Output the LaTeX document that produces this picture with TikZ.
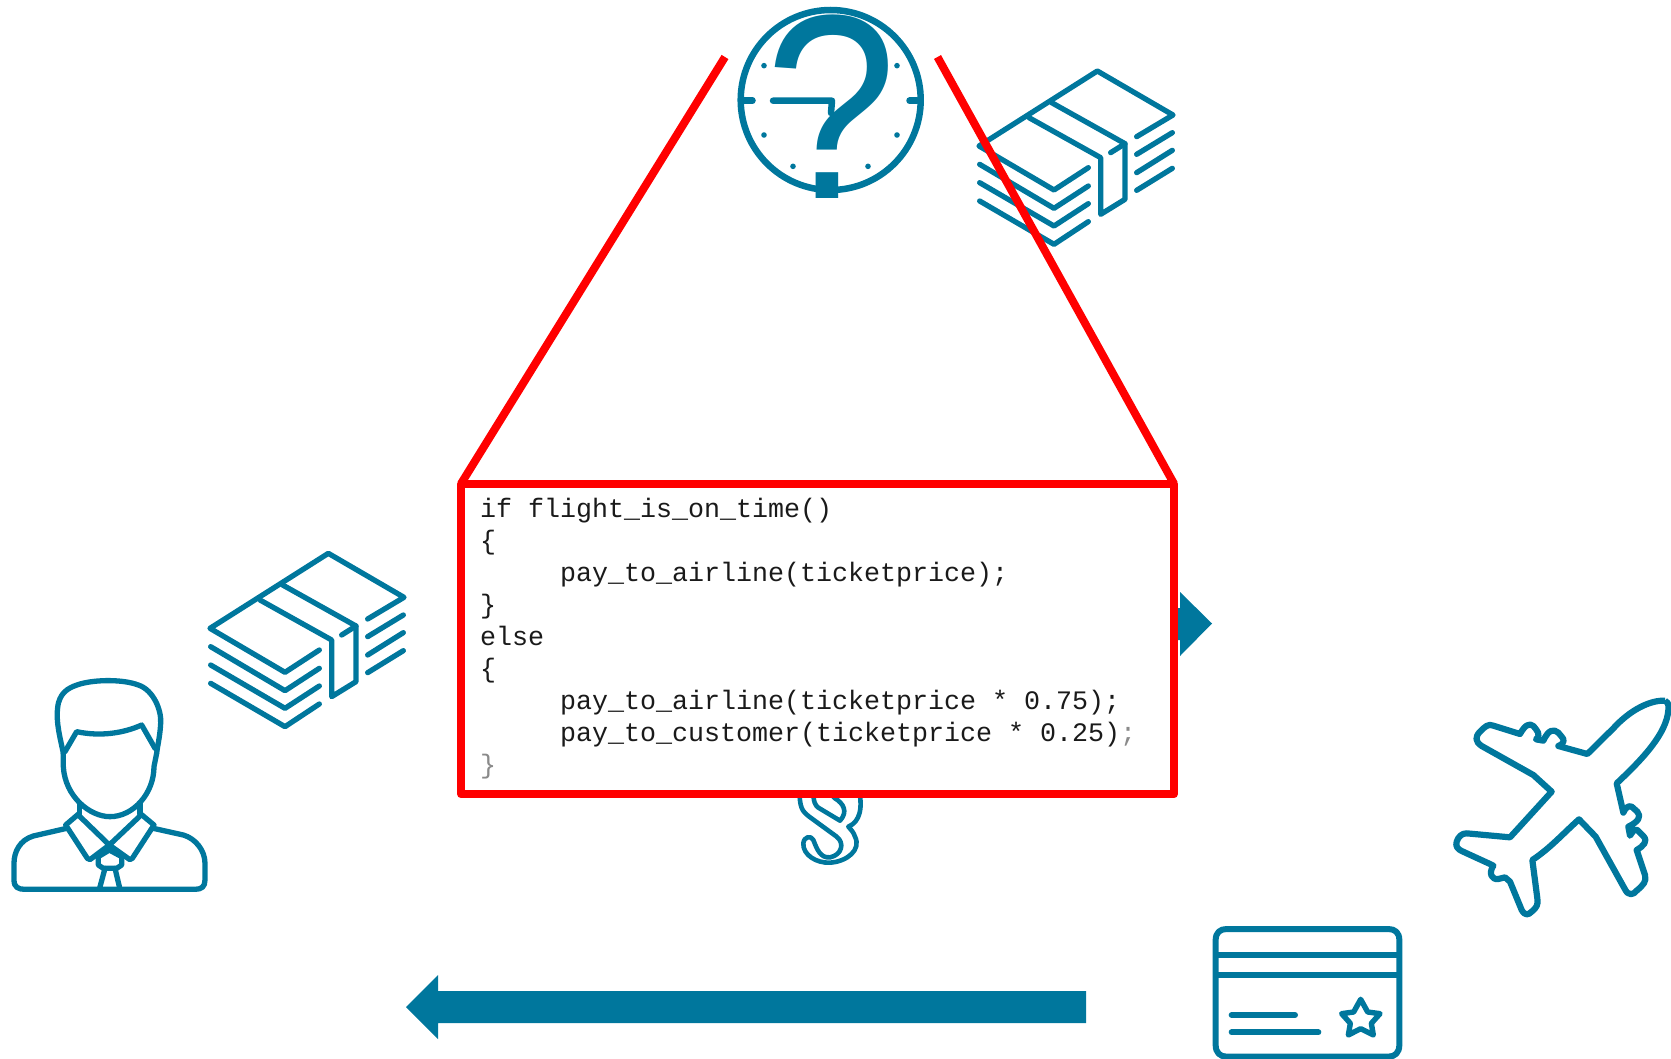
\documentclass[tikz,border=0pt]{standalone}
\usepackage{fontspec}
\setmainfont{Liberation Sans}
\newfontfamily\codefont{Liberation Mono}
\definecolor{teal}{HTML}{00779D}
\definecolor{redline}{HTML}{FF0000}
\definecolor{fade}{HTML}{8A8A8A}
\definecolor{ink}{HTML}{1A1A1A}
\tikzset{
  icon/.style={draw=teal,line width=5.3pt,line cap=round,line join=round},
  zoomed/.style={x=0.33333pt,y=-0.33333pt},
  redstroke/.style={draw=redline,line width=8pt},
  codebox/.style={draw=redline,fill=white,line width=8pt,line join=round,rectangle,inner sep=0pt,outer sep=0pt,minimum width=713pt,minimum height=310.5pt},
  codetext/.style={inner sep=0pt,outer sep=0pt,align=left,anchor=north west,text=ink,font=\codefont\fontsize{26.67}{32}\selectfont},
  bigmark/.style={inner sep=0pt,outer sep=0pt,anchor=base,text=teal,xscale=0.9,font=\fontsize{263}{263}\selectfont},
  dial/.style={circle,draw=teal,line width=6.5pt,minimum size=180pt,inner sep=0pt,outer sep=0pt},
  tick/.style={draw=teal,line width=6.5pt,line cap=round,line join=round},
  dotmark/.style={fill=teal,draw=none},
  arrowfill/.style={fill=teal,draw=none}
}
\newcommand\moneyicon{%
  \draw[icon] (1103,237) -- (1212,172) -- (985,40) -- (630,265) -- (855,397) -- (958,330);
  \draw[icon] (632,320) -- (855,452) -- (958,385);
  \draw[icon] (632,375) -- (855,505) -- (958,438);
  \draw[icon] (632,430) -- (855,560) -- (958,492);
  \draw[icon] (1103,290) -- (1210,225);
  \draw[icon] (1103,345) -- (1210,278);
  \draw[icon] (1103,398) -- (1210,332);
  \draw[icon] (780,180) -- (995,300) -- (995,470) -- (1068,425) -- (1068,258) -- (848,135);
  \draw[icon] (1025,285) -- (1068,258);
}
\begin{document}
\begin{tikzpicture}[x=1pt,y=-1pt]
\useasboundingbox (0,0) rectangle (1671,1059);
% clock
\node[dial] (clock) at (830.7,100) {};
\draw[tick] (744.5,100.7) -- (752.5,100.7);
\draw[tick] (909.5,100.7) -- (917,100.7);
\draw[tick] (773,100.7) -- (832,100.7) -- (831,113);
\foreach \dx/\dy in {192/197,591/197,192/405,591/405,279/499,504/499}
  \fill[dotmark] ({700+\dx/3},{\dy/3}) circle (2.8pt);
\node[bigmark] (question) at (831,199) {?};
% money, upper
\begin{scope}[shift={(769,57.67)},zoomed]\moneyicon\end{scope}
% money, left
\begin{scope}[shift={(0,540)},zoomed]\moneyicon\end{scope}
% person
\begin{scope}[shift={(0,540)},zoomed]
  \draw[icon] (190,640) .. controls (180,590) and (165,540) .. (175,490)
     .. controls (185,450) and (215,440) .. (240,432)
     .. controls (290,418) and (370,418) .. (415,435)
     .. controls (460,450) and (485,510) .. (482,550)
     .. controls (480,590) and (472,620) .. (470,640);
  \draw[icon] (190,640) -- (190,680) .. controls (195,770) and (270,830) .. (330,830)
     .. controls (400,830) and (462,760) .. (462,680) -- (470,640);
  \draw[icon] (195,635) -- (230,575) .. controls (300,590) and (370,580) .. (425,555) -- (465,625);
  \draw[icon] (238,790) -- (238,822);
  \draw[icon] (420,790) -- (420,822);
  \draw[icon] (238,820) -- (197,855) -- (262,955) .. controls (268,962) and (272,958) .. (275,955) -- (328,915) -- (238,828);
  \draw[icon] (420,820) -- (462,855) -- (397,955) .. controls (391,962) and (387,958) .. (384,955) -- (328,915) -- (420,828);
  \draw[icon] (328,930) -- (295,950) -- (295,975) -- (310,985) -- (350,985) -- (365,975) -- (365,950) -- (328,930);
  \draw[icon] (315,985) -- (298,1048);
  \draw[icon] (345,985) -- (360,1048);
  \draw[icon] (200,865) -- (100,888) .. controls (60,900) and (42,935) .. (42,970) -- (42,1020)
     .. controls (42,1042) and (55,1048) .. (75,1048) -- (585,1048)
     .. controls (605,1048) and (615,1040) .. (615,1020) -- (615,970)
     .. controls (615,930) and (585,895) .. (550,885) -- (460,865);
\end{scope}
% plane
\begin{scope}[shift={(1430,680)},zoomed]
  \draw[icon,line width=6.2pt,line cap=butt] (705,62) .. controls (660,60) and (600,90) .. (550,145) -- (472,222) -- (385,198)
    .. controls (405,190) and (403,178) .. (395,170) -- (385,158) .. controls (370,145) and (355,150) .. (340,182)
    -- (318,178) .. controls (335,165) and (320,150) .. (310,138) .. controls (298,128) and (285,135) .. (270,162)
    -- (190,137) .. controls (175,130) and (165,140) .. (150,155) .. controls (135,170) and (135,185) .. (155,198)
    -- (310,285) -- (365,335) -- (240,472) -- (110,460)
    .. controls (95,460) and (85,470) .. (80,485) .. controls (75,500) and (85,508) .. (95,513)
    -- (180,552) -- (190,557) .. controls (175,580) and (185,600) .. (205,597) -- (225,592) -- (240,605)
    -- (275,690) .. controls (285,708) and (295,705) .. (305,695) .. controls (320,682) and (325,675) .. (322,655)
    -- (307,540) .. controls (360,505) and (400,460) .. (447,418) -- (497,470)
    -- (585,628) .. controls (595,648) and (610,645) .. (620,632) .. controls (640,615) and (650,605) .. (645,585)
    -- (620,510) .. controls (640,498) and (655,485) .. (640,468) -- (622,450) .. controls (612,445) and (605,460) .. (600,467)
    -- (595,440) .. controls (625,425) and (635,410) .. (622,395) -- (605,380) .. controls (595,375) and (585,385) .. (580,398)
    -- (560,310) .. controls (640,235) and (710,160) .. (715,90) .. controls (717,70) and (712,64) .. (705,62);
\end{scope}
% card
\begin{scope}[shift={(1200,910)},zoomed]
  \draw[icon,line width=6pt] (47,90) .. controls (47,68) and (60,57) .. (80,57) -- (565,57)
     .. controls (585,57) and (598,68) .. (598,90) -- (598,405)
     .. controls (598,428) and (585,440) .. (565,440) -- (80,440)
     .. controls (60,440) and (47,428) .. (47,405) -- cycle;
  \draw[icon,line width=5.8pt,line cap=butt] (47,135) -- (598,135);
  \draw[icon,line width=6.4pt,line cap=butt] (47,195) -- (598,195);
  \draw[icon,line width=6pt] (95,315) -- (285,315);
  \draw[icon,line width=6pt] (95,367) -- (355,367);
  \draw[icon,line width=5.4pt] (482,268) -- (503,306) -- (540,311) -- (514,340) -- (520,375) -- (482,356) -- (445,375) -- (451,340) -- (425,311) -- (461,306) -- cycle;
\end{scope}
% section sign
\begin{scope}[shift={(780,780)},zoomed]
  \draw[icon,line width=4.6pt,line cap=butt] (60,20) .. controls (55,85) and (70,95) .. (85,108) -- (170,170)
     .. controls (195,190) and (185,225) .. (150,232) .. controls (120,235) and (110,205) .. (100,180)
     .. controls (92,165) and (72,170) .. (70,190) .. controls (68,225) and (110,250) .. (150,248)
     .. controls (200,245) and (245,210) .. (225,170) .. controls (220,155) and (212,148) .. (205,140)
     .. controls (240,125) and (250,85) .. (235,20);
  \draw[icon,line width=4.6pt,line cap=butt] (100,20) .. controls (98,70) and (108,78) .. (115,83) -- (180,122)
     .. controls (205,95) and (190,70) .. (165,55) -- (130,20);
\end{scope}
% arrows
\fill[arrowfill] (1170,608) -- (1180,608) -- (1180,592) -- (1212,623.5) -- (1180,656) -- (1180,640) -- (1170,640) -- cycle;
\fill[arrowfill] (1086,991) -- (438,991) -- (438,975) -- (406,1007) -- (438,1039) -- (438,1023) -- (1086,1023) -- cycle;
% code box
\node[codebox] (code) at (817.5,639) {};
\node[codetext] (codetext) at (480,498.5) {if flight\_is\_on\_time()\\
\{\\
\hspace*{80pt}pay\_to\_airline(ticketprice);\\
\}\\
else\\
\{\\
\hspace*{80pt}pay\_to\_airline(ticketprice * 0.75);\\
\hspace*{80pt}pay\_to\_customer(ticketprice * 0.25)\textcolor{fade}{;}\\
\textcolor{fade}{\}}};
\coordinate (leftend) at (725,57);
\coordinate (rightend) at (937.5,57);
\draw[redstroke] (code.north west) -- (leftend);
\draw[redstroke] (code.north east) -- (rightend);
\end{tikzpicture}
\end{document}
